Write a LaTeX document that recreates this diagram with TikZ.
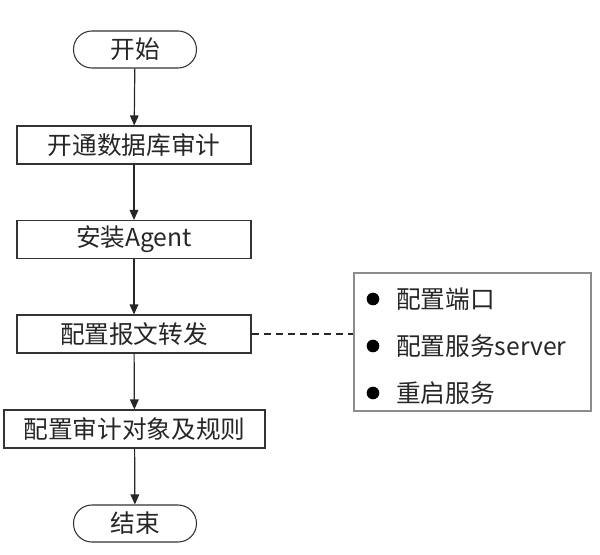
\documentclass[tikz,border=0pt]{standalone}
\usepackage{fontspec}
\setmainfont{Noto Sans CJK SC}
\usetikzlibrary{arrows.meta}
\begin{document}
\begin{tikzpicture}[x=0.75pt,y=-0.75pt,
  every node/.style={font=\fontsize{18.5}{20}\selectfont, text=black!85, inner sep=0pt},
  term/.style={draw=black!80, line width=0.8pt, rectangle, rounded corners=13.8pt, minimum width=92.25pt, minimum height=27.75pt},
  proc/.style={draw=black!80, line width=0.8pt, rectangle, minimum height=28.5pt},
  flow/.style={draw=black!85, line width=0.9pt, -{Triangle[length=7.5pt,width=6.5pt]}},
]
\useasboundingbox (0,0) rectangle (600,555);
\node[term] (start) at (135,49.5) {开始};
\node[proc, minimum width=175.5pt] (b1) at (134,145) {开通数据库审计};
\node[proc, minimum width=175.5pt] (b2) at (134,239.5) {安装Agent};
\node[proc, minimum width=175.5pt] (b3) at (134,334) {配置报文转发};
\node[proc, minimum width=195.75pt] (b4) at (134.5,429) {配置审计对象及规则};
\node[term] (end) at (135,523.5) {结束};
\node[draw=black!45, line width=0.8pt, minimum width=177.75pt, minimum height=103.5pt] (note) at (472.5,342) {};
\foreach \y/\t [count=\i] in {299/配置端口, 346/配置服务server, 393/重启服务} {
  \node[circle, fill=black, minimum size=9.5pt] (dot\i) at (373,\y) {};
  \node[anchor=west] (t\i) at (396,\y) {\t};
}
\draw[flow] (start) -- (b1);
\draw[flow] (b1) -- (b2);
\draw[flow] (b2) -- (b3);
\draw[flow] (b3) -- (b4);
\draw[flow] (b4) -- (end);
\draw[black!85, line width=0.9pt, dash pattern=on 5.5pt off 3.5pt] (b3.east) -- (note.west |- b3.east);
\end{tikzpicture}
\end{document}
